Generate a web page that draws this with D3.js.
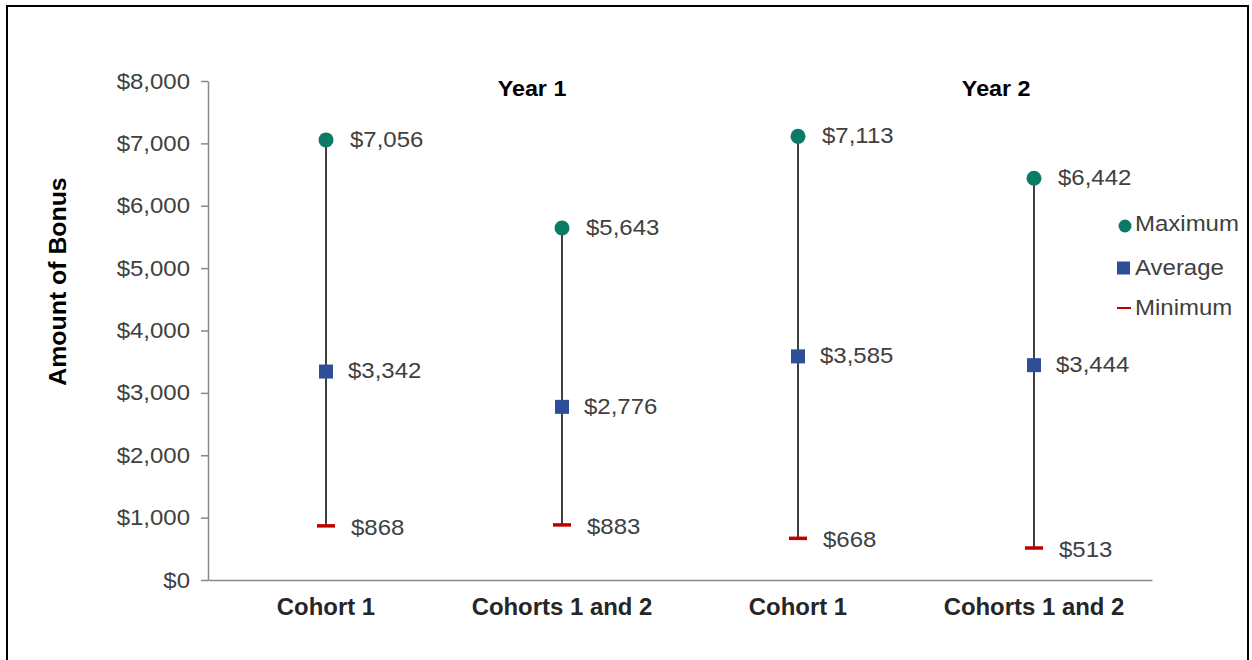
<!DOCTYPE html>
<html><head><meta charset="utf-8">
<script src="https://cdn.jsdelivr.net/npm/d3@7"></script>
<style>body{margin:0;background:#fff}svg{display:block;font-family:"Liberation Sans",Arial,sans-serif}</style>
</head><body><svg id="c" width="1252" height="660"></svg>
<script>
const categories = ["Cohort 1","Cohorts 1 and 2","Cohort 1","Cohorts 1 and 2"];
const maxValues = [7056, 5643, 7113, 6442];
const avgValues = [3342, 2776, 3585, 3444];
const minValues = [868, 883, 668, 513];
const yTicks = [0,1000,2000,3000,4000,5000,6000,7000,8000];
const groupTitles = ["Year 1","Year 2"];
const legendItems = ["Maximum","Average","Minimum"];

(function(){
const svg = d3.select("#c");
svg.append("rect").attr("x",7).attr("y",6).attr("width",1241).attr("height",700).attr("fill","#fff").attr("stroke","#000").attr("stroke-width",2);

const stretch = (sel,f) => sel.each(function(){
  const w=this.getComputedTextLength();
  this.setAttribute("textLength", w*f);
  this.setAttribute("lengthAdjust","spacingAndGlyphs");
});

const pL=208,pR=1152,pT=81,pB=580;
const x = d3.scaleBand().domain(d3.range(categories.length)).range([pL,pR]);
const y = d3.scaleLinear().domain([0,8000]).range([pB,pT]);
const fmt = d => "$"+d3.format(",")(d);
const tc="#404040";
const FS=22, SF=1.09;

const ya = svg.append("g").attr("transform",`translate(${pL},0)`)
  .call(d3.axisLeft(y).tickValues(yTicks).tickFormat(fmt).tickSize(7).tickSizeOuter(0).tickPadding(11));
ya.select(".domain").attr("stroke","#888").attr("stroke-width",1.5);
ya.selectAll(".tick line").attr("stroke","#888").attr("stroke-width",1.5);
ya.selectAll("text").attr("font-size",FS).attr("fill",tc).attr("font-family","Liberation Sans, Arial").call(stretch,SF);

const xa = svg.append("g").attr("transform",`translate(0,${pB})`)
  .call(d3.axisBottom(x).tickFormat(i=>categories[i]).tickSize(0).tickSizeOuter(0).tickPadding(19));
xa.select(".domain").attr("stroke","#888").attr("stroke-width",1.5);
xa.selectAll("text").attr("font-size",23).attr("font-weight","bold").attr("fill","#262626").attr("font-family","Liberation Sans, Arial").call(stretch,1.04);

svg.append("text").attr("transform",`translate(66,${(pT+pB)/2-49}) rotate(-90)`).attr("text-anchor","middle")
  .attr("font-size",23).attr("font-weight","bold").attr("fill","#000").text("Amount of Bonus").call(stretch,1.08);

const gx=[x(0)+x.bandwidth()*1.373, x(2)+x.bandwidth()*1.34];
groupTitles.forEach((t,i)=>svg.append("text").attr("x",gx[i]).attr("y",96).attr("text-anchor","middle")
  .attr("font-size",22).attr("font-weight","bold").attr("fill","#000").text(t).call(stretch,1.06));

const cx = i => x(i)+x.bandwidth()/2;
const idx = d3.range(categories.length);
svg.selectAll(".hl").data(idx).join("line").attr("x1",cx).attr("x2",cx)
  .attr("y1",i=>y(minValues[i])).attr("y2",i=>y(maxValues[i])).attr("stroke","#000").attr("stroke-width",1.5);
svg.selectAll(".mn").data(idx).join("line").attr("x1",i=>cx(i)-9).attr("x2",i=>cx(i)+9)
  .attr("y1",i=>y(minValues[i])).attr("y2",i=>y(minValues[i])).attr("stroke","#C00000").attr("stroke-width",3.5);
svg.selectAll(".av").data(idx).join("rect").attr("x",i=>cx(i)-7).attr("y",i=>y(avgValues[i])-7)
  .attr("width",14).attr("height",14).attr("fill","#2E4E9A");
svg.selectAll(".mx").data(idx).join("circle").attr("cx",cx).attr("cy",i=>y(maxValues[i])).attr("r",7.5).attr("fill","#0B7A66");

const lab=(vals,dx,dy)=>svg.append("g").selectAll("text").data(idx).join("text").attr("x",i=>cx(i)+dx).attr("y",i=>y(vals[i])+dy)
  .attr("font-size",FS).attr("fill",tc).attr("dominant-baseline","middle").text(i=>fmt(vals[i])).call(stretch,SF);
lab(maxValues,24,1); lab(avgValues,22,1); lab(minValues,25,3);

const lg = svg.append("g");
const ly=[224,268,308];
lg.append("circle").attr("cx",1125).attr("cy",ly[0]+2).attr("r",6.5).attr("fill","#0B7A66");
lg.append("rect").attr("x",1117).attr("y",ly[1]-6.5).attr("width",13).attr("height",13).attr("fill","#2E4E9A");
lg.append("line").attr("x1",1117).attr("x2",1131).attr("y1",ly[2]).attr("y2",ly[2]).attr("stroke","#C00000").attr("stroke-width",2);
legendItems.forEach((t,i)=>lg.append("text").attr("x",1135).attr("y",ly[i]+1).attr("dominant-baseline","middle")
  .attr("font-size",FS).attr("fill",tc).text(t).call(stretch,SF));
})();
</script></body></html>
